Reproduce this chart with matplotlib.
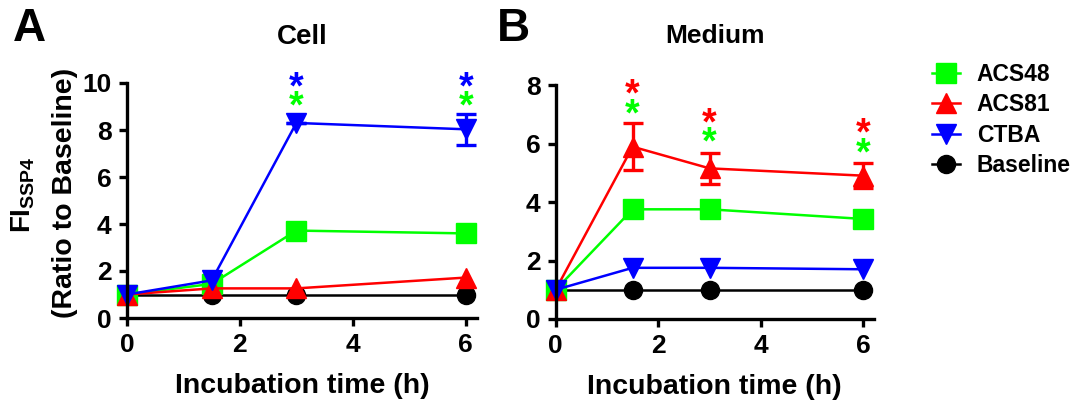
import matplotlib
matplotlib.use("Agg")
import matplotlib.pyplot as plt
from matplotlib.lines import Line2D
from matplotlib.transforms import offset_copy

plt.rcParams['font.family'] = ['Liberation Sans', 'DejaVu Sans']
plt.rcParams['font.weight'] = 'bold'
plt.rcParams['mathtext.fontset'] = 'custom'
plt.rcParams['mathtext.rm'] = 'Liberation Sans:bold'
plt.rcParams['mathtext.bf'] = 'Liberation Sans:bold'

# time points (h)
t = [0, 1.5, 3, 6]

# panel A: Cell
cell_acs48 = [1.0, 1.45, 3.72, 3.6]
cell_acs81 = [1.0, 1.26, 1.26, 1.72]
cell_ctba = [1.0, 1.6, 8.3, 8.03]
cell_ctba_err = [0, 0, 0, 0.65]
cell_base = [1.0, 1.0, 1.0, 1.0]

# panel B: Medium
med_acs48 = [1.0, 3.75, 3.75, 3.42]
med_acs81 = [1.0, 5.89, 5.15, 4.9]
med_acs81_err = [0, 0.8, 0.53, 0.42]
med_ctba = [1.0, 1.75, 1.75, 1.7]
med_base = [1.0, 1.0, 1.0, 1.0]

# significance stars: (x, y, colour)
cell_stars = [(3, 10.1, 'blue'), (3, 9.28, 'lime'), (6, 10.1, 'blue'), (6, 9.28, 'lime')]
med_stars = [(1.5, 7.92, 'red'), (1.5, 7.24, 'lime'),
             (3, 6.92, 'red'), (3, 6.26, 'lime'),
             (6, 6.57, 'red'), (6, 5.91, 'lime')]

GREEN, RED, BLUE, BLACK = '#00ff00', '#ff0000', '#0000ff', '#000000'

fig = plt.figure(figsize=(10.77, 4.04), dpi=100)
axA = fig.add_axes([127 / 1077, 86 / 404, 350 / 1077, 235 / 404])
axB = fig.add_axes([555.7 / 1077, 85 / 404, 318 / 1077, 234 / 404])


def series(ax, y, color, marker, ms, err=None):
    ax.errorbar(t, y, yerr=err, color=color, marker=marker, ms=ms, lw=1.8,
                elinewidth=2.4, capsize=7, capthick=2.4, clip_on=False)


def stars(ax, pts):
    # asterisk glyph sits high in its box, so nudge it down a bit
    tr = offset_copy(ax.transData, fig=fig, x=0, y=-8, units='dots')
    for x, y, c in pts:
        ax.text(x, y, '*', color=c, fontsize=27, ha='center', va='center',
                fontweight='bold', transform=tr, clip_on=False)


def style(ax, ymax):
    ax.set_xlim(0, 6.2)
    ax.set_ylim(0, ymax)
    ax.set_xticks([0, 2, 4, 6])
    ax.set_yticks(range(0, ymax + 1, 2))
    for s in ['top', 'right']:
        ax.spines[s].set_visible(False)
    for s in ['left', 'bottom']:
        ax.spines[s].set_linewidth(2.4)
    ax.tick_params(width=2.4, length=6, labelsize=19, pad=5)
    for lab in ax.get_xticklabels() + ax.get_yticklabels():
        lab.set_fontweight('bold')
    ax.set_xlabel('Incubation time (h)', fontsize=20.5, fontweight='bold', labelpad=11)


# Panel A
series(axA, cell_base, BLACK, 'o', 13)
series(axA, cell_acs48, GREEN, 's', 14)
series(axA, cell_acs81, RED, '^', 14)
series(axA, cell_ctba, BLUE, 'v', 14, cell_ctba_err)
stars(axA, cell_stars)
style(axA, 10)
axA.set_title('Cell', fontsize=20, fontweight='bold', pad=28)

# Panel B
series(axB, med_base, BLACK, 'o', 13)
series(axB, med_acs48, GREEN, 's', 14)
series(axB, med_acs81, RED, '^', 14, med_acs81_err)
series(axB, med_ctba, BLUE, 'v', 14)
stars(axB, med_stars)
style(axB, 8)
axB.set_title('Medium', fontsize=19, fontweight='bold', pad=30)

# y label (two lines)
fig.text(23 / 1077, 1 - 195 / 404, r'FI$_{\mathregular{SSP4}}$', rotation=90, fontsize=20,
         ha='center', va='center', fontweight='bold')
fig.text(65 / 1077, 1 - 193 / 404, '(Ratio to Baseline)', rotation=90, fontsize=20.5,
         ha='center', va='center', fontweight='bold')

# panel letters
fig.text(13 / 1077, 1 - 29 / 404, 'A', fontsize=33, fontweight='bold', va='center')
fig.text(497 / 1077, 1 - 29 / 404, 'B', fontsize=33, fontweight='bold', va='center')

# legend
handles = [Line2D([], [], color=GREEN, marker='s', ms=14, lw=1.8),
           Line2D([], [], color=RED, marker='^', ms=14, lw=1.8),
           Line2D([], [], color=BLUE, marker='v', ms=14, lw=1.8),
           Line2D([], [], color=BLACK, marker='o', ms=13, lw=1.8)]
fig.legend(handles, ['ACS48', 'ACS81', 'CTBA', 'Baseline'], loc='upper left',
           bbox_to_anchor=(932 / 1077, 1 - 63 / 404), frameon=False,
           handlelength=1.2, handletextpad=0.75, labelspacing=0.32, borderpad=0,
           borderaxespad=0, prop={'weight': 'bold', 'size': 16.5})

fig.savefig('out.png', dpi=100)
